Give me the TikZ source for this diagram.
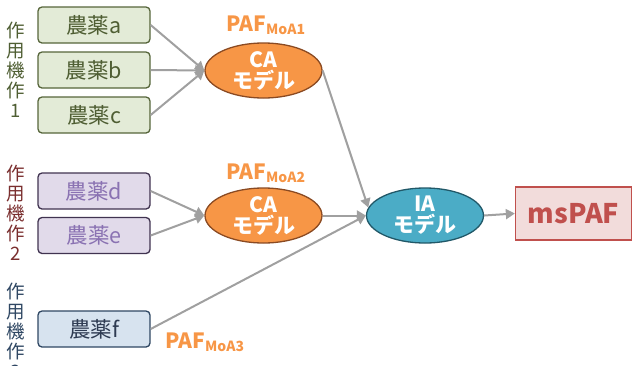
\documentclass[tikz,border=0pt]{standalone}
\usepackage{fontspec}
\setmainfont{Noto Sans CJK JP}
\usetikzlibrary{shapes.geometric,arrows.meta}
\definecolor{gA}{HTML}{E3EBD7}\definecolor{gAd}{HTML}{56653A}\definecolor{gAt}{HTML}{4F5E33}
\definecolor{pB}{HTML}{E1DAEA}\definecolor{pBd}{HTML}{403350}\definecolor{pBt}{HTML}{8A72B2}
\definecolor{bC}{HTML}{D7E3EF}\definecolor{bCd}{HTML}{2F4763}\definecolor{bCt}{HTML}{2E3B52}
\definecolor{lab2}{HTML}{7A2E2E}
\definecolor{orF}{HTML}{F79646}\definecolor{orD}{HTML}{8A4A22}
\definecolor{tlF}{HTML}{4BACC6}\definecolor{tlD}{HTML}{215868}
\definecolor{rdF}{HTML}{F2DCDB}\definecolor{rdD}{HTML}{C0504D}
\definecolor{arr}{HTML}{A0A0A0}
\tikzset{
  pbox/.style={draw,line width=1.3pt,rounded corners=4pt,minimum width=112pt,minimum height=36pt,inner sep=0pt,font=\fontsize{21.5}{22}\selectfont},
  model/.style={ellipse,draw,line width=1.3pt,minimum width=117pt,minimum height=55pt,inner sep=0pt,text=white,align=center,font=\fontsize{21}{21}\selectfont\bfseries},
  paf/.style={text=orF,font=\fontsize{21}{22}\selectfont\bfseries,inner sep=0pt},
  vlab/.style={align=center,font=\fontsize{18.5}{20}\selectfont,inner sep=0pt},
  conn/.style={draw=arr,line width=2pt,-{Triangle[length=9pt,width=10pt]}}
}
\newcommand{\pafsub}[1]{PAF\textsubscript{\fontsize{14}{14}\selectfont #1}}
\begin{document}
\begin{tikzpicture}[x=1pt,y=-1pt]
\useasboundingbox (0,0) rectangle (632,365);
% left labels
\node[vlab,text=gAt,anchor=north] (l1) at (16,22) {作\\用\\機\\作\\1};
\node[vlab,text=lab2,anchor=north] (l2) at (16,165) {作\\用\\機\\作\\2};
\node[vlab,text=bCd,anchor=north] (l3) at (16,283) {作\\用\\機\\作\\3};
% pesticide boxes
\node[pbox,fill=gA,draw=gAd,text=gAt] (a) at (94,25) {農薬a};
\node[pbox,fill=gA,draw=gAd,text=gAt] (b) at (94,70) {農薬b};
\node[pbox,fill=gA,draw=gAd,text=gAt] (c) at (94,115) {農薬c};
\node[pbox,fill=pB,draw=pBd,text=pBt] (d) at (94,191) {農薬d};
\node[pbox,fill=pB,draw=pBd,text=pBt] (e) at (94,235.5) {農薬e};
\node[pbox,fill=bC,draw=bCd,text=bCt] (f) at (94,329) {農薬f};
% models
\node[model,fill=orF,draw=orD] (ca1) at (263.5,70.5) {CA\\モデル};
\node[model,fill=orF,draw=orD] (ca2) at (263.5,215.5) {CA\\モデル};
\node[model,fill=tlF,draw=tlD] (ia) at (425,215.5) {IA\\モデル};
\node[draw=rdD,fill=rdF,line width=1.3pt,minimum width=116pt,minimum height=53pt,inner sep=0pt,text=rdD,font=\fontsize{27}{27}\selectfont\bfseries] (ms) at (573.5,213.5) {msPAF};
% PAF labels
\node[paf] (p1) at (266,25) {\pafsub{MoA1}};
\node[paf] (p2) at (266,173) {\pafsub{MoA2}};
\node[paf] (p3) at (205,342) {\pafsub{MoA3}};
% connectors
\draw[conn] (a.east) -- (ca1.west);
\draw[conn] (b.east) -- (ca1.west);
\draw[conn] (c.east) -- (ca1.west);
\draw[conn] (d.east) -- (ca2.west);
\draw[conn] (e.east) -- (ca2.west);
\draw[conn] (ca1.east) -- (ia.172);
\draw[conn] (ca2.east) -- (ia.west);
\draw[conn] (f.east) -- (ia.west);
\draw[conn] (ia.east) -- (ms.west);
\end{tikzpicture}
\end{document}
